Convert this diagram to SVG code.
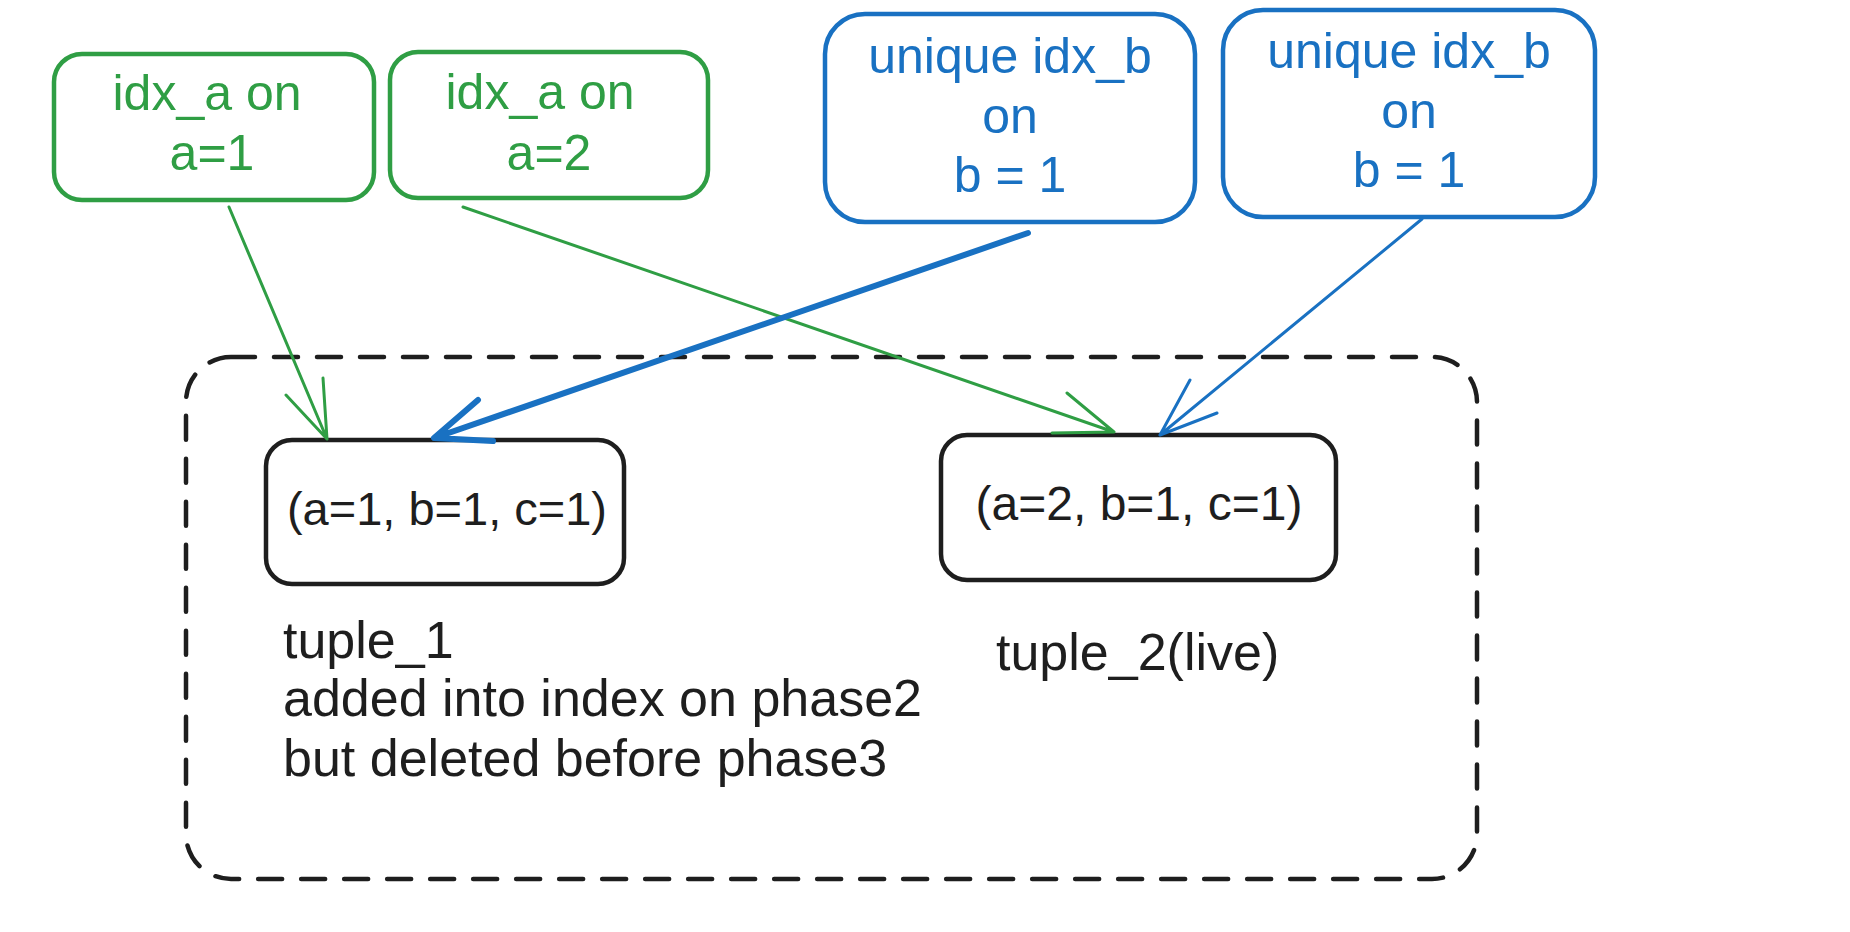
<svg xmlns="http://www.w3.org/2000/svg" width="1850" height="932" viewBox="0 0 1850 932">
<style>
.t{font-family:"Liberation Sans",Arial,sans-serif;font-size:50px}
.tm{font-size:47px}
.tn{font-size:48px}
.tl{font-size:52px}
.g{fill:#2f9e44}
.b{fill:#1971c2}
.k{fill:#1e1e1e}
.gbox{fill:none;stroke:#2f9e44;stroke-width:4.5}
.bbox{fill:none;stroke:#1971c2;stroke-width:4.5}
.kbox{fill:none;stroke:#1e1e1e;stroke-width:4.5}
.ga{fill:none;stroke:#2f9e44;stroke-width:3;stroke-linecap:round;stroke-linejoin:round}
.ba{fill:none;stroke:#1971c2;stroke-width:3;stroke-linecap:round;stroke-linejoin:round}
.bat{fill:none;stroke:#1971c2;stroke-width:6;stroke-linecap:round;stroke-linejoin:round}
</style>
<rect width="1850" height="932" fill="#ffffff"/>
<g id="container">
<rect x="186" y="357" width="1291" height="522" rx="45" fill="none" stroke="#1e1e1e" stroke-width="4.5" stroke-dasharray="24 19" stroke-linecap="round"/>
</g>
<g id="idx_a_1">
<rect class="gbox" x="54" y="54" width="320" height="146" rx="28"/>
<text class="t g" x="207" y="110" text-anchor="middle">idx_a on</text>
<text class="t g" x="212" y="170" text-anchor="middle">a=1</text>
</g>
<g id="idx_a_2">
<rect class="gbox" x="390" y="52" width="318" height="146" rx="28"/>
<text class="t g" x="540" y="109" text-anchor="middle">idx_a on</text>
<text class="t g" x="549" y="170" text-anchor="middle">a=2</text>
</g>
<g id="idx_b_1">
<rect class="bbox" x="825" y="14" width="370" height="208" rx="40"/>
<text class="t b" x="1010" y="73" text-anchor="middle">unique idx_b</text>
<text class="t b" x="1010" y="133" text-anchor="middle">on</text>
<text class="t b" x="1010" y="192" text-anchor="middle">b = 1</text>
</g>
<g id="idx_b_2">
<rect class="bbox" x="1223" y="10" width="372" height="207" rx="40"/>
<text class="t b" x="1409" y="68" text-anchor="middle">unique idx_b</text>
<text class="t b" x="1409" y="128" text-anchor="middle">on</text>
<text class="t b" x="1409" y="187" text-anchor="middle">b = 1</text>
</g>
<g id="tuple_1">
<rect class="kbox" x="266" y="440" width="358" height="144" rx="26"/>
<text class="t tm k" x="447" y="525" text-anchor="middle">(a=1, b=1, c=1)</text>
</g>
<g id="tuple_2">
<rect class="kbox" x="941" y="435" width="395" height="145" rx="26"/>
<text class="t tn k" x="1139" y="520" text-anchor="middle">(a=2, b=1, c=1)</text>
</g>
<g id="labels">
<text class="t tl k" x="283" y="658">tuple_1</text>
<text class="t tl k" x="283" y="716">added into index on phase2</text>
<text class="t tl k" x="283" y="776">but deleted before phase3</text>
<text class="t tl k" x="996" y="670">tuple_2(live)</text>
</g>
<g id="connectors">
<path class="ga" d="M229 207 L327 439 M286 395 L327 439 L323 378"/>
<path class="ga" d="M463 207 L1114 432 M1067 393 L1114 432 L1052 433"/>
<path class="bat" d="M1028 233 L434 438 M478 400 L434 438 L493 441"/>
<path class="ba" d="M1422 219 L1160 435 M1190 380 L1160 435 L1217 413"/>
</g>
</svg>
